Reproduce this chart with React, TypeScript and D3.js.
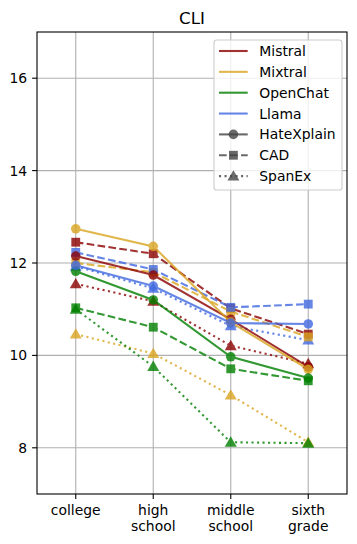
import React, { useRef, useEffect } from "react";
import * as d3 from "d3";

const levels = ["college", "high school", "middle school", "sixth grade"];
const models = ["Mistral", "Mixtral", "OpenChat", "Llama"];
const datasets = ["HateXplain", "CAD", "SpanEx"];
const yTicks = [8, 10, 12, 14, 16];

// CLI score per reading level, one array per model/dataset
const mistralHateXplain = [12.15, 11.74, 10.78, 9.75];
const mistralCAD = [12.45, 12.2, 11.02, 10.46];
const mistralSpanEx = [11.55, 11.17, 10.21, 9.82];
const mixtralHateXplain = [12.74, 12.36, 10.72, 9.7];
const mixtralCAD = [12.0, 11.8, 10.95, 10.4];
const mixtralSpanEx = [10.46, 10.04, 9.14, 8.12];
const openchatHateXplain = [11.82, 11.2, 9.97, 9.51];
const openchatCAD = [11.03, 10.61, 9.71, 9.45];
const openchatSpanEx = [11.0, 9.76, 8.12, 8.1];
const llamaHateXplain = [11.95, 11.5, 10.7, 10.68];
const llamaCAD = [12.23, 11.86, 11.04, 11.11];
const llamaSpanEx = [11.93, 11.45, 10.64, 10.33];

const values: Record<string, Record<string, number[]>> = {
  Mistral: { HateXplain: mistralHateXplain, CAD: mistralCAD, SpanEx: mistralSpanEx },
  Mixtral: { HateXplain: mixtralHateXplain, CAD: mixtralCAD, SpanEx: mixtralSpanEx },
  OpenChat: { HateXplain: openchatHateXplain, CAD: openchatCAD, SpanEx: openchatSpanEx },
  Llama: { HateXplain: llamaHateXplain, CAD: llamaCAD, SpanEx: llamaSpanEx },
};

const colors: Record<string, string> = {
  Mistral: "#8b0000",
  Mixtral: "#daa520",
  OpenChat: "#008000",
  Llama: "#4169e1",
};
const dashes: Record<string, string | null> = {
  HateXplain: null,
  CAD: "7.7,3.3",
  SpanEx: "2.1,3.4",
};
const shapes: Record<string, d3.SymbolType> = {
  HateXplain: d3.symbolCircle,
  CAD: d3.symbolSquare,
  SpanEx: d3.symbolTriangle,
};
const sizes: Record<string, number> = { HateXplain: 72, CAD: 78, SpanEx: 62 };

const FONT = "DejaVu Sans";

export default function App() {
  const svgRef = useRef<SVGSVGElement>(null);

  useEffect(() => {
    const svg = d3.select(svgRef.current);
    svg.selectAll("*").remove();

    const width = 357;
    const height = 544;
    const m = { left: 37, right: 347, top: 32, bottom: 494 };

    const x = d3.scaleBand().domain(levels).range([m.left, m.right]).padding(0);
    const cx = (d: string) => (x(d) as number) + x.bandwidth() / 2;
    const y = d3.scaleLinear().domain([7, 17]).range([m.bottom, m.top]);

    svg.attr("width", width).attr("height", height);
    svg.append("rect").attr("width", width).attr("height", height).attr("fill", "white");

    // grid
    const grid = svg.append("g").attr("stroke", "#b0b0b0").attr("stroke-width", 1.1);
    grid.selectAll("line.v")
      .data(levels)
      .join("line")
      .attr("x1", d => cx(d)).attr("x2", d => cx(d))
      .attr("y1", m.top).attr("y2", m.bottom);
    grid.selectAll("line.h")
      .data(yTicks)
      .join("line")
      .attr("class", "h")
      .attr("x1", m.left).attr("x2", m.right)
      .attr("y1", d => y(d)).attr("y2", d => y(d));

    const line = d3.line<number>()
      .x((d, i) => cx(levels[i]))
      .y(d => y(d));

    const drawOrder = ["SpanEx", "CAD", "HateXplain"];
    drawOrder.forEach(ds => {
      models.forEach(md => {
        const g = svg.append("g").attr("opacity", 0.8);
        g.append("path")
          .attr("d", line(values[md][ds]))
          .attr("fill", "none")
          .attr("stroke", colors[md])
          .attr("stroke-width", 2.1)
          .attr("stroke-dasharray", dashes[ds]);
        const sym = d3.symbol().type(shapes[ds]).size(sizes[ds]);
        g.selectAll("path.mk")
          .data(values[md][ds])
          .join("path")
          .attr("class", "mk")
          .attr("transform", (d, i) => `translate(${cx(levels[i])},${y(d) + (ds === "SpanEx" ? 1 : 0)})`)
          .attr("d", sym())
          .attr("fill", colors[md]);
      });
    });

    // frame
    svg.append("rect")
      .attr("x", m.left).attr("y", m.top)
      .attr("width", m.right - m.left).attr("height", m.bottom - m.top)
      .attr("fill", "none").attr("stroke", "black").attr("stroke-width", 1.1);

    // y axis
    const yAxis = svg.append("g");
    yAxis.selectAll("line")
      .data(yTicks)
      .join("line")
      .attr("x1", m.left - 4.9).attr("x2", m.left)
      .attr("y1", d => y(d)).attr("y2", d => y(d))
      .attr("stroke", "black").attr("stroke-width", 1.1);
    yAxis.selectAll("text")
      .data(yTicks)
      .join("text")
      .attr("x", m.left - 9.8)
      .attr("y", d => y(d))
      .attr("dy", "0.36em")
      .attr("text-anchor", "end")
      .style("font-family", FONT)
      .style("font-size", "13.9px")
      .text(d => d);

    // x axis
    const xAxis = svg.append("g");
    xAxis.selectAll("line")
      .data(levels)
      .join("line")
      .attr("x1", d => cx(d)).attr("x2", d => cx(d))
      .attr("y1", m.bottom).attr("y2", m.bottom + 4.9)
      .attr("stroke", "black").attr("stroke-width", 1.1);
    const xl = xAxis.selectAll("text")
      .data(levels)
      .join("text")
      .attr("text-anchor", "middle")
      .style("font-family", FONT)
      .style("font-size", "13.9px");
    xl.selectAll("tspan")
      .data(d => d.split(" ").map(w => ({ w, d })))
      .join("tspan")
      .attr("x", o => cx(o.d))
      .attr("y", (o, i) => 514.5 + i * 16.2)
      .text(o => o.w);

    // title
    svg.append("text")
      .attr("x", (m.left + m.right) / 2)
      .attr("y", 23.7)
      .attr("text-anchor", "middle")
      .style("font-family", FONT)
      .style("font-size", "16.7px")
      .text("CLI");

    // legend
    const lg = svg.append("g");
    lg.append("rect")
      .attr("x", 214).attr("y", 40).attr("width", 128).attr("height", 150)
      .attr("rx", 2.8)
      .attr("fill", "white").attr("fill-opacity", 0.8)
      .attr("stroke", "#cccccc").attr("stroke-width", 1.1);
    const items = [
      ...models.map(md => ({ label: md, color: colors[md], dash: null as string | null, shape: null as d3.SymbolType | null, size: 0 })),
      ...datasets.map(ds => ({ label: ds, color: "#444444", dash: dashes[ds], shape: shapes[ds], size: sizes[ds] })),
    ];
    const row = lg.selectAll("g")
      .data(items)
      .join("g")
      .attr("transform", (d, i) => `translate(0,${51 + i * 20.85})`);
    row.append("line")
      .attr("x1", 219).attr("x2", 247.7)
      .attr("stroke", d => d.color)
      .attr("stroke-width", 2.1)
      .attr("stroke-dasharray", d => d.dash)
      .attr("opacity", 0.8);
    row.filter(d => d.shape !== null)
      .append("path")
      .attr("transform", d => `translate(233.4,${d.shape === d3.symbolTriangle ? 1 : 0})`)
      .attr("d", d => d3.symbol().type(d.shape as d3.SymbolType).size(d.size)())
      .attr("fill", d => d.color)
      .attr("opacity", 0.8);
    row.append("text")
      .attr("x", 259.3)
      .attr("dy", "0.36em")
      .style("font-family", FONT)
      .style("font-size", "13.9px")
      .text(d => d.label);
  }, []);

  return (
    <div style={{ position: "absolute", left: 0, top: 0 }}>
      <svg ref={svgRef} style={{ display: "block" }} />
    </div>
  );
}
